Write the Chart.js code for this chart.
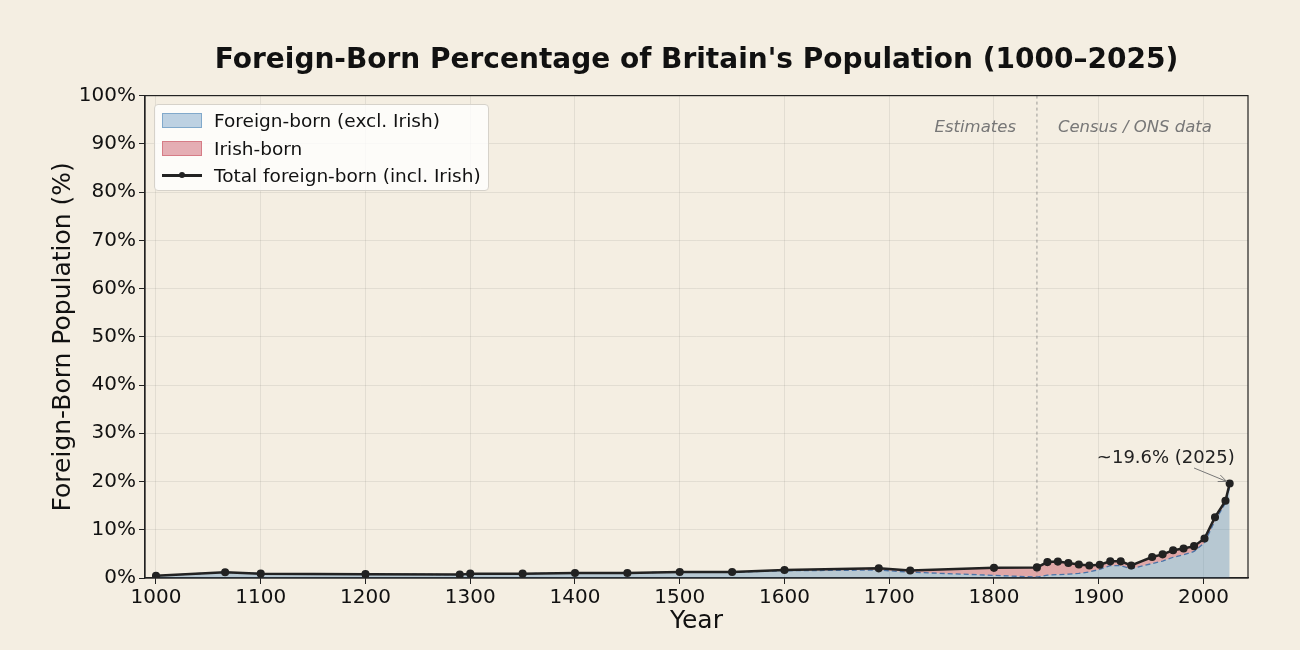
<!DOCTYPE html>
<html>
<head>
<meta charset="utf-8">
<script src="https://cdn.jsdelivr.net/npm/chart.js@4.4.1/dist/chart.umd.min.js"></script>
<style>
  html, body { margin: 0; padding: 0; background: #f4eee2; }
  #wrap { position: relative; width: 1300px; height: 650px; }
  #legend {
    position: absolute; left: 154px; top: 104px; width: 335px; height: 87px;
    background: rgba(255,255,255,0.8); border: 1px solid #d6d2ca; border-radius: 4px;
    font-family: "DejaVu Sans", sans-serif; font-size: 18.5px; color: #111;
    box-sizing: border-box; padding-top: 2px;
  }
  .item { display: flex; align-items: center; height: 27.5px; }
  .sw { width: 40px; height: 15px; margin-left: 7px; margin-right: 12px; box-sizing: border-box; position: relative; }
  .sw.line::before { content: ""; position: absolute; left: 0; right: 0; top: 6px; height: 2.5px; background: #222; }
  .sw.line::after { content: ""; position: absolute; left: 17px; top: 4px; width: 6px; height: 6px; border-radius: 50%; background: #222; }
</style>
</head>
<body>
<div id="wrap">
  <canvas id="chart" width="1300" height="650"></canvas>
  <div id="legend"></div>
</div>
<script>
// ===== Data =====
const YEARS = [1000, 1066, 1100, 1200, 1290, 1300, 1350, 1400, 1450, 1500, 1550, 1600, 1690, 1720, 1800, 1841,
  1851, 1861, 1871, 1881, 1891, 1901, 1911, 1921, 1931, 1951, 1961, 1971, 1981, 1991, 2001, 2011, 2021, 2025];
const TOTAL_FOREIGN = [0.45, 1.2, 0.9, 0.8, 0.7, 0.9, 0.9, 1.05, 1.05, 1.25, 1.25, 1.65, 2.0, 1.55, 2.1, 2.2,
  3.3, 3.4, 3.1, 2.8, 2.6, 2.75, 3.45, 3.45, 2.6, 4.35, 4.9, 5.75, 6.1, 6.6, 8.2, 12.6, 16.0, 19.6];
const FOREIGN_EXCL_IRISH = [0.45, 1.2, 0.9, 0.8, 0.7, 0.9, 0.9, 1.05, 1.05, 1.25, 1.2, 1.5, 1.65, 1.2, 0.55, 0.2,
  0.6, 0.7, 0.8, 0.95, 1.25, 1.8, 2.55, 2.55, 1.9, 3.0, 3.5, 4.3, 4.8, 5.5, 7.3, 11.9, 15.5, 18.9];
const X_TICKS = [1000, 1100, 1200, 1300, 1400, 1500, 1600, 1700, 1800, 1900, 2000];
const Y_TICKS = [0, 10, 20, 30, 40, 50, 60, 70, 80, 90, 100];
const DIVIDER_YEAR = 1841;

const FONT = "DejaVu Sans";
const BLUE_FILL = "rgba(70,130,180,0.35)";
const PINK_FILL = "rgba(200,80,95,0.45)";
const TEXT = "#111";

const LEGEND_ITEMS = [
  { label: "Foreign-born (excl. Irish)", type: "patch", color: BLUE_FILL, border: "rgba(70,130,180,0.5)" },
  { label: "Irish-born", type: "patch", color: PINK_FILL, border: "rgba(200,80,95,0.55)" },
  { label: "Total foreign-born (incl. Irish)", type: "line" },
];

// ===== Legend (html overlay) =====
document.getElementById("legend").innerHTML = LEGEND_ITEMS.map((it) =>
  it.type === "patch"
    ? `<div class="item"><span class="sw" style="background:${it.color};border:1px solid ${it.border}"></span>${it.label}</div>`
    : `<div class="item"><span class="sw line"></span>${it.label}</div>`
).join("");

// ===== Extra drawing: divider, era labels, annotation, frame =====
const extras = {
  id: "extras",
  beforeDatasetsDraw(chart) {
    const { ctx, chartArea: a, scales: { x } } = chart;
    const xd = x.getPixelForValue(DIVIDER_YEAR);
    ctx.save();
    ctx.strokeStyle = "rgba(120,120,120,0.7)";
    ctx.lineWidth = 1;
    ctx.setLineDash([3, 3]);
    ctx.beginPath();
    ctx.moveTo(xd, a.top);
    ctx.lineTo(xd, a.bottom);
    ctx.stroke();
    ctx.restore();
  },
  afterDatasetsDraw(chart) {
    const { ctx, chartArea: a, scales: { x, y } } = chart;
    ctx.save();
    ctx.font = `italic 16.5px "${FONT}"`;
    ctx.fillStyle = "#777";
    ctx.textBaseline = "middle";
    ctx.textAlign = "right";
    ctx.fillText("Estimates", x.getPixelForValue(DIVIDER_YEAR - 20), y.getPixelForValue(93.3));
    ctx.textAlign = "left";
    ctx.fillText("Census / ONS data", x.getPixelForValue(DIVIDER_YEAR + 20), y.getPixelForValue(93.3));

    // annotation of last point
    const last = YEARS.length - 1;
    const px = x.getPixelForValue(YEARS[last]);
    const py = y.getPixelForValue(TOTAL_FOREIGN[last]);
    ctx.font = `18px "${FONT}"`;
    ctx.fillStyle = "#222";
    ctx.textAlign = "center";
    ctx.fillText(`~${TOTAL_FOREIGN[last]}% (${YEARS[last]})`, x.getPixelForValue(1964), y.getPixelForValue(24.9));
    const sx = x.getPixelForValue(1991), sy = y.getPixelForValue(22.8);
    const ex = px - 3, ey = py - 2;
    ctx.strokeStyle = "#777";
    ctx.lineWidth = 1;
    ctx.beginPath();
    ctx.moveTo(sx, sy);
    ctx.lineTo(ex, ey);
    const ang = Math.atan2(ey - sy, ex - sx);
    ctx.moveTo(ex - 9 * Math.cos(ang - 0.4), ey - 9 * Math.sin(ang - 0.4));
    ctx.lineTo(ex, ey);
    ctx.lineTo(ex - 9 * Math.cos(ang + 0.4), ey - 9 * Math.sin(ang + 0.4));
    ctx.stroke();

    // full frame like matplotlib spines
    ctx.strokeStyle = "#222";
    ctx.lineWidth = 1.2;
    ctx.strokeRect(a.left, a.top, a.right - a.left, a.bottom - a.top);
    ctx.restore();
  },
};

const ctx = document.getElementById("chart").getContext("2d");
new Chart(ctx, {
  type: "line",
  data: {
    datasets: [
      {
        label: "Foreign-born (excl. Irish)",
        data: YEARS.map((yr, i) => ({ x: yr, y: FOREIGN_EXCL_IRISH[i] })),
        borderColor: "#4a74a8",
        borderWidth: 1.3,
        borderDash: [5, 3],
        backgroundColor: BLUE_FILL,
        fill: "origin",
        pointRadius: 0,
        tension: 0,
        order: 1,
      },
      {
        label: "Total foreign-born (incl. Irish)",
        data: YEARS.map((yr, i) => ({ x: yr, y: TOTAL_FOREIGN[i] })),
        borderColor: "#222",
        borderWidth: 2.5,
        backgroundColor: PINK_FILL,
        fill: "-1",
        pointRadius: 2.8,
        pointBackgroundColor: "#222",
        pointBorderColor: "#222",
        tension: 0,
        order: 0,
      },
    ],
  },
  options: {
    responsive: false,
    animation: false,
    layout: { padding: { left: 48, right: 52, top: 0, bottom: 10 } },
    plugins: {
      legend: { display: false },
      tooltip: { enabled: false },
      filler: { drawTime: "beforeDatasetsDraw" },
      title: {
        display: true,
        fullSize: false,
        text: "Foreign-Born Percentage of Britain's Population (1000\u20132025)",
        color: TEXT,
        font: { family: FONT, size: 28, weight: "bold" },
        padding: { top: 44, bottom: 18 },
      },
    },
    scales: {
      x: {
        type: "linear",
        min: 989.5,
        max: 2042.5,
        afterBuildTicks: (axis) => { axis.ticks = X_TICKS.map((v) => ({ value: v })); },
        afterFit: (s) => { s.height = 62; },
        ticks: { callback: (v) => String(v), color: TEXT, font: { family: FONT, size: 20 }, padding: 2, maxRotation: 0 },
        grid: { color: "rgba(0,0,0,0.07)", tickColor: "#222", tickLength: 6 },
        border: { color: "#222", width: 1.2 },
        title: { display: true, text: "Year", color: TEXT, font: { family: FONT, size: 25 }, padding: { top: 0, bottom: 4 } },
      },
      y: {
        min: 0,
        max: 100,
        afterBuildTicks: (axis) => { axis.ticks = Y_TICKS.map((v) => ({ value: v })); },
        afterFit: (s) => { s.width = 97; },
        ticks: { callback: (v) => v + "%", color: TEXT, font: { family: FONT, size: 20 }, padding: 3 },
        grid: { color: "rgba(0,0,0,0.07)", tickColor: "#222", tickLength: 6 },
        border: { color: "#222", width: 1.2 },
        title: { display: true, text: "Foreign-Born Population (%)", color: TEXT, font: { family: FONT, size: 25 }, padding: { top: 0, bottom: 4 } },
      },
    },
  },
  plugins: [extras],
});
</script>
</body>
</html>
